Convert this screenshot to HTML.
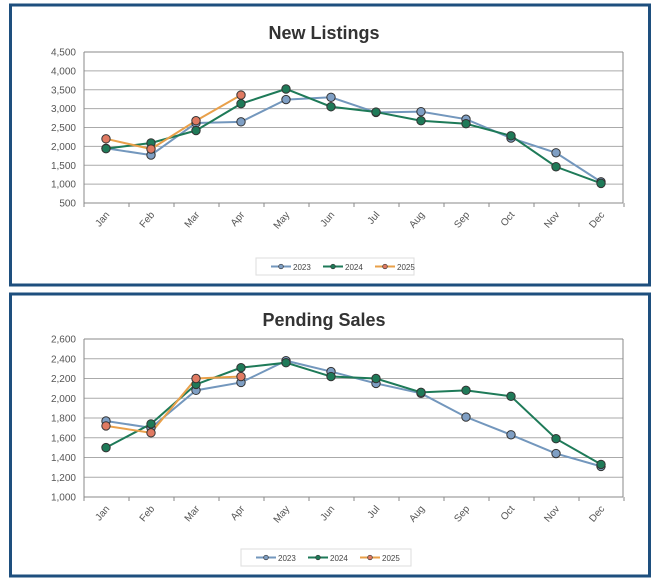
<!DOCTYPE html>
<html><head><meta charset="utf-8"><style>
body{margin:0;background:#fff;width:659px;height:582px;overflow:hidden;font-family:"Liberation Sans",sans-serif}
</style></head><body>
<svg id="s" width="659" height="582" xmlns="http://www.w3.org/2000/svg" font-family="Liberation Sans, sans-serif"></svg>
<script>
const s=document.getElementById('s');let h='';
const M=['Jan','Feb','Mar','Apr','May','Jun','Jul','Aug','Sep','Oct','Nov','Dec'];
const C=[{l:'#7397bd',m:'#7f9fc4'},{l:'#1e7a58',m:'#1f7a58'},{l:'#e9a04a',m:'#e07a62'}];
function chart(py,ph,title,ty,y0,y1,vmin,vmax,step,data,leg){
 h+=`<rect x="10.5" y="${py}" width="639" height="${ph}" fill="#fff" stroke="#1e4f7e" stroke-width="3"/>`;
 h+=`<text x="324" y="${ty}" text-anchor="middle" font-size="18" font-weight="bold" fill="#333">${title}</text>`;
 const Y=v=>y1+(vmin-v)*(y1-y0)/(vmax-vmin);
 for(let v=vmin;v<=vmax;v+=step){const y=Y(v);
  h+=`<line x1="84" x2="623" y1="${y}" y2="${y}" stroke="${v==vmin?'#888':'#aaa'}" stroke-width="1"/>`;
  h+=`<text x="76" y="${y+3.5}" text-anchor="end" font-size="10" fill="#555">${v.toLocaleString('en-US')}</text>`;}
 h+=`<line x1="84" x2="84" y1="${y0}" y2="${y1}" stroke="#888"/><line x1="623" x2="623" y1="${y0}" y2="${y1}" stroke="#888"/><line x1="84" x2="623" y1="${y0}" y2="${y0}" stroke="#888"/>`;
 for(let i=0;i<=12;i++){const x=84+i*45;h+=`<line x1="${x}" x2="${x}" y1="${y1}" y2="${y1+4}" stroke="#888"/>`;}
 M.forEach((m,i)=>{const x=106+i*45;h+=`<text transform="translate(${x+4},${y1+12}) rotate(-50)" text-anchor="end" font-size="10" fill="#555">${m}</text>`;});
 data.forEach((d,k)=>{const p=d.map((v,i)=>`${106+i*45},${Y(v)}`).join(' ');
  h+=`<polyline points="${p}" fill="none" stroke="${C[k].l}" stroke-width="2"/>`;});
 data.forEach((d,k)=>d.forEach((v,i)=>{h+=`<circle cx="${106+i*45}" cy="${Y(v)}" r="4.2" fill="${C[k].m}" stroke="#333" stroke-width="1"/>`;}));
 const [lx,ly,lw]=leg;
 h+=`<rect x="${lx}" y="${ly}" width="${lw}" height="17" fill="#fff" stroke="#ddd"/>`;
 ['2023','2024','2025'].forEach((t,k)=>{const x=lx+15+k*52;
  h+=`<line x1="${x}" x2="${x+20}" y1="${ly+8.5}" y2="${ly+8.5}" stroke="${C[k].l}" stroke-width="2"/><circle cx="${x+10}" cy="${ly+8.5}" r="2.3" fill="${C[k].m}" stroke="#333" stroke-width=".7"/><text x="${x+22}" y="${ly+12}" font-size="8" fill="#444">${t}</text>`;});
}
chart(5,280,'New Listings',39,52,203,500,4500,500,[
[1950,1770,2620,2650,3240,3300,2900,2920,2720,2220,1830,1060],
[1940,2090,2420,3130,3520,3050,2910,2680,2600,2280,1460,1020],
[2200,1930,2680,3360]],[256,258,158]);
chart(294,282,'Pending Sales',326,339,497,1000,2600,200,[
[1770,1700,2080,2160,2380,2270,2150,2050,1810,1630,1440,1310],
[1500,1740,2140,2310,2360,2220,2200,2060,2080,2020,1590,1330],
[1720,1650,2200,2220]],[241,549,170]);
s.innerHTML=h;
</script>
</body></html>
